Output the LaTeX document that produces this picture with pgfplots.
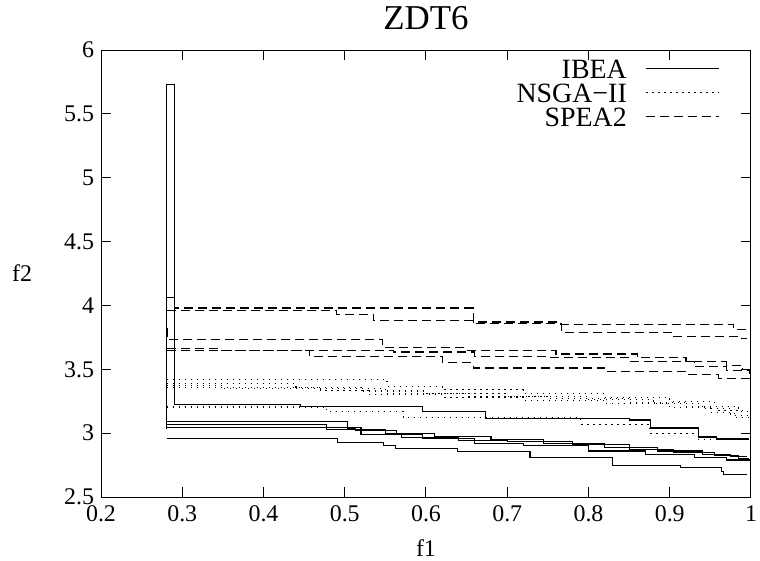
\documentclass[border=0pt]{standalone}
\usepackage{fontspec}
\setmainfont{Liberation Serif}
\usepackage{pgfplots}
\pgfplotsset{compat=1.18}

\begin{document}
\begin{tikzpicture}
\useasboundingbox (-50.5bp,-32bp) rectangle (329.5bp,248.5bp);
\begin{axis}[
    at={(0,0)}, anchor=south west,
    scale only axis, width=325bp, height=223.5bp,
    xmin=0.2, xmax=1, ymin=2.5, ymax=6,
    xtick={0.2,0.3,0.4,0.5,0.6,0.7,0.8,0.9,1},
    ytick={2.5,3,3.5,4,4.5,5,5.5,6},
    tick pos=both, tick align=inside,
    major tick length=5bp,
    axis line style={line width=0.5bp},
    every tick/.style={black,line width=0.5bp},
    /pgf/number format/assume math mode=true,
    tick label style={font=\fontsize{12}{12}\selectfont},
    xticklabel style={yshift=-1bp},
    title={ZDT6},
    every axis title/.style={at={(axis description cs:0.5,1)},anchor=center,yshift=16bp,font=\fontsize{17.5}{18}\selectfont},
    xlabel={f1},
    every axis x label/.style={at={(axis description cs:0.5,0)},anchor=center,yshift=-25.5bp,font=\fontsize{12}{12}\selectfont},
    ylabel={f2},
    every axis y label/.style={at={(axis description cs:0,0.5)},anchor=center,xshift=-39.5bp,font=\fontsize{12}{12}\selectfont},
    legend plot pos=right,
    legend cell align=right,
    legend image code/.code={\draw[#1] (0bp,0bp) -- (36.5bp,0bp);},
    legend style={draw=none, fill=none, at={(axis description cs:0.962,0.995)}, anchor=north east,
        font=\fontsize{14}{14}\selectfont, row sep=0bp, column sep=9bp,
        nodes={inner sep=0.5bp, text height=10.5bp, text depth=0.5bp}},
    every axis plot/.append style={line width=0.55bp, black},
    ibea/.style={const plot, solid},
    nsga/.style={const plot, dash pattern=on 0.6bp off 2.4bp},
    spea/.style={const plot, dash pattern=on 4.5bp off 2.5bp},
]
% IBEA
\addplot[ibea] coordinates {(0.2808,3.03) (0.2808,5.73) (0.291,3.225) (0.445,3.21) (0.596,3.17) (0.673,3.118) (0.851,3.103) (0.876,3.04) (0.935,2.97) (0.958,2.954) (0.998,2.954)};
\addlegendentry{IBEA}
% NSGA-II
\addplot[nsga] coordinates {(0.2808,3.42) (0.552,3.365) (0.62,3.34) (0.72,3.31) (0.82,3.28) (0.90,3.25) (0.955,3.21) (0.985,3.17) (0.998,3.17)};
\addlegendentry{NSGA−II}
% SPEA2
\addplot[spea] coordinates {(0.2808,4.06) (0.291,3.98) (0.658,3.87) (0.765,3.85) (0.978,3.81) (0.995,3.81)};
\addlegendentry{SPEA2}

% remaining IBEA runs
\addplot[ibea,forget plot] coordinates {(0.2808,3.09) (0.503,3.04) (0.513,3.02) (0.564,2.99) (0.596,2.96) (0.66,2.92) (0.72,2.90) (0.80,2.86) (0.87,2.83) (0.93,2.81) (0.97,2.79) (1.0,2.79)};
\addplot[ibea,forget plot] coordinates {(0.2808,3.065) (0.478,3.03) (0.55,3.00) (0.61,2.975) (0.68,2.95) (0.745,2.92) (0.82,2.89) (0.885,2.86) (0.94,2.83) (0.975,2.815) (0.995,2.815)};
\addplot[ibea,forget plot] coordinates {(0.2808,3.045) (0.52,2.99) (0.57,2.965) (0.64,2.945) (0.70,2.935) (0.78,2.91) (0.85,2.875) (0.905,2.85) (0.955,2.825) (0.985,2.80) (0.998,2.80)};
\addplot[ibea,forget plot] coordinates {(0.2808,2.96) (0.392,2.955) (0.491,2.93) (0.548,2.90) (0.563,2.88) (0.639,2.855) (0.728,2.808) (0.830,2.75) (0.913,2.73) (0.964,2.70) (0.966,2.677) (0.995,2.677)};

% remaining NSGA-II runs
\addplot[nsga,forget plot] coordinates {(0.2808,3.39) (0.44,3.36) (0.52,3.33) (0.60,3.31) (0.70,3.29) (0.80,3.26) (0.88,3.23) (0.94,3.19) (0.975,3.14) (0.998,3.13)};
\addplot[nsga,forget plot] coordinates {(0.2808,3.36) (0.47,3.335) (0.53,3.30) (0.62,3.28) (0.72,3.255) (0.82,3.23) (0.90,3.20) (0.95,3.16) (0.98,3.12) (0.998,3.10)};
\addplot[nsga,forget plot] coordinates {(0.2808,3.205) (0.478,3.17) (0.572,3.12) (0.79,3.07) (0.875,3.00) (0.935,2.95) (0.995,2.95)};
\addplot[nsga,forget plot] coordinates {(0.2808,3.37) (0.35,3.35) (0.55,3.31) (0.65,3.29) (0.75,3.27) (0.85,3.24) (0.92,3.21) (0.96,3.18) (0.99,3.15)};

% remaining SPEA2 runs
\addplot[spea,forget plot] coordinates {(0.2808,3.96) (0.49,3.93) (0.535,3.88) (0.658,3.86) (0.767,3.79) (0.904,3.76) (0.983,3.74) (0.995,3.74)};
\addplot[spea,forget plot] coordinates {(0.2808,3.82) (0.2815,3.73) (0.547,3.67) (0.65,3.65) (0.76,3.62) (0.86,3.59) (0.92,3.56) (0.97,3.53) (0.99,3.50) (1.0,3.50)};
\addplot[spea,forget plot] coordinates {(0.2808,3.66) (0.344,3.645) (0.56,3.635) (0.66,3.60) (0.75,3.59) (0.85,3.56) (0.93,3.52) (0.97,3.49) (0.998,3.46)};
\addplot[spea,forget plot] coordinates {(0.2808,3.65) (0.457,3.60) (0.62,3.55) (0.658,3.51) (0.82,3.48) (0.92,3.46) (0.96,3.43) (0.998,3.40)};
\end{axis}
\end{tikzpicture}
\end{document}
